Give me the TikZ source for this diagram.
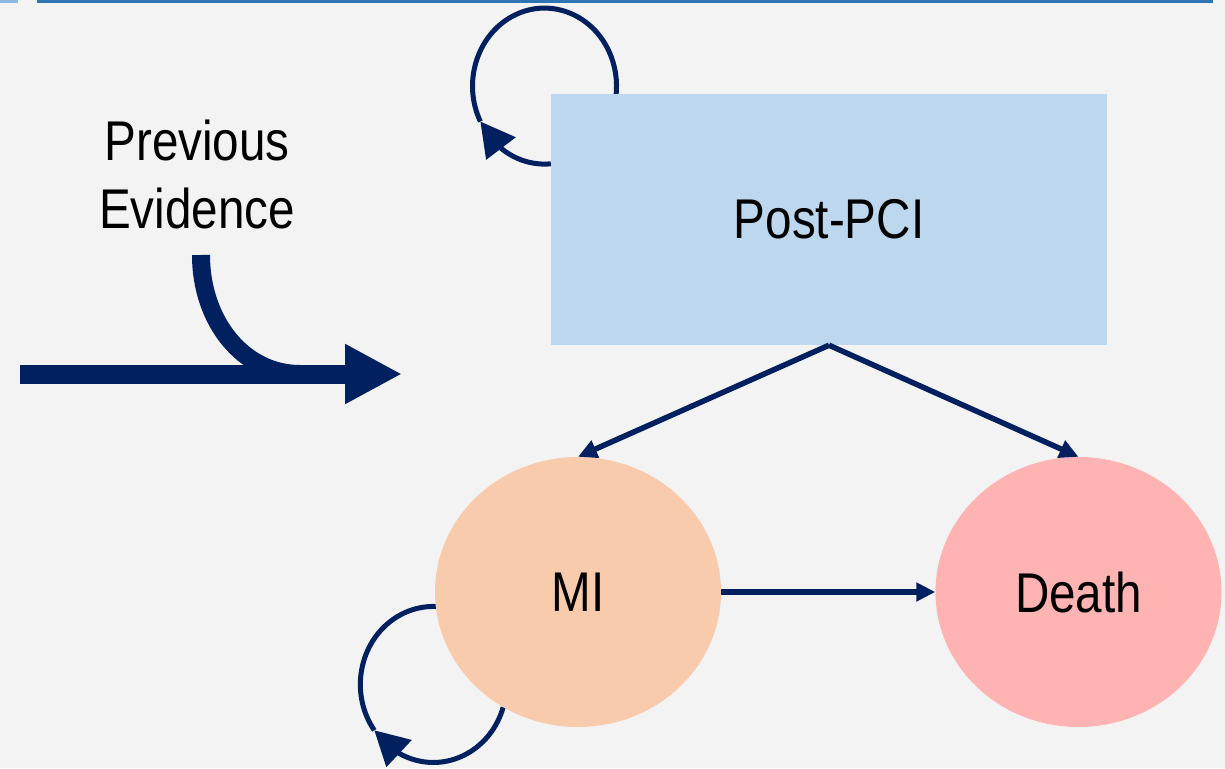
\documentclass[tikz,border=0pt]{standalone}
\usepackage{fontspec}
\newfontfamily\labfont[FakeStretch=0.85]{Liberation Sans}
\usetikzlibrary{arrows.meta,bending,shapes.geometric}
\definecolor{navy}{HTML}{002060}
\definecolor{bgc}{HTML}{F3F3F3}
\definecolor{boxblue}{HTML}{BDD7EE}
\definecolor{peach}{HTML}{F8CBAD}
\definecolor{pinkd}{HTML}{FFB3B3}
\definecolor{rulec}{HTML}{2E75B6}
\definecolor{rulelight}{HTML}{8DB8E2}
\pgfdeclarelayer{bg}
\pgfdeclarelayer{under}
\pgfsetlayers{bg,under,main}
\begin{document}
\begin{tikzpicture}[x=1pt,y=-1pt,
  lab/.style={font=\labfont\fontsize{56}{68}\selectfont, text=black},
  state/.style={ellipse, minimum width=286pt, minimum height=270pt, inner sep=0pt, lab},
  flow/.style={draw=navy, line width=5.5pt, -{Triangle[length=19pt,width=18pt]}},
  loopline/.style={draw=navy, line width=5pt},
  looptip/.style={loopline, -{Triangle[length=34pt,width=36pt,flex]}},
  bigarrow/.style={draw=navy, line width=19pt},
]
\useasboundingbox (0,0) rectangle (1225,768);
\begin{pgfonlayer}{bg}
\fill[bgc] (0,0) rectangle (1225,768);
\end{pgfonlayer}
\fill[rulec] (37,0) rectangle (1213,3);
\fill[rulelight] (0,0) rectangle (18,3);

\node[rectangle, fill=boxblue, minimum width=556pt, minimum height=251pt, inner sep=0pt, lab] (post) at (829,219.5) {Post-PCI};
\node[state, fill=peach] (mi) at (578,592) {MI};
\node[state, fill=pinkd] (death) at (1078.5,592) {Death};
\node[lab, align=center, inner sep=0pt] (prev) at (197,174) {Previous\\Evidence};

\draw[flow] (post.south) -- (mi.north);
\draw[flow] (post.south) -- (death.north);
\draw[flow] (mi.east) -- (death.west);

\begin{pgfonlayer}{under}
\draw[looptip] ([yshift=-70pt]post.north west) arc[start angle=85, end angle=153, x radius=72, y radius=78] coordinate (t1);
\draw[loopline] (t1) arc[start angle=153, end angle=368, x radius=72, y radius=78];
\draw[looptip] (mi.237) arc[start angle=17, end angle=144, x radius=73, y radius=78] coordinate (t2);
\draw[loopline] (t2) arc[start angle=144, end angle=285, x radius=73, y radius=78];
\end{pgfonlayer}

\coordinate (bs) at (20,374);
\coordinate (be) at (402,374);
\coordinate (cs) at (201,255);
\coordinate (ce) at (300,374);
\draw[bigarrow, -{Triangle[length=57pt,width=56pt]}] (bs) -- (be);
\draw[bigarrow, line width=18pt] (cs) .. controls (201,321) and (243,374) .. (ce);
\end{tikzpicture}
\end{document}
